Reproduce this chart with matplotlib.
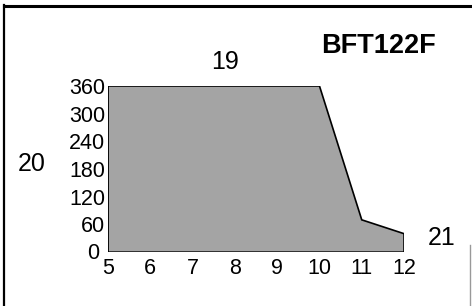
import matplotlib

matplotlib.use("Agg")
import matplotlib.pyplot as plt
import matplotlib.transforms as mtransforms
from matplotlib.lines import Line2D

plt.rcParams["font.family"] = ["Liberation Sans", "DejaVu Sans"]

# outline of the operating envelope
x_vals = [5, 5, 10, 11, 12, 12]
y_vals = [0, 360, 360, 70, 40, 0]
x_ticks = [5, 6, 7, 8, 9, 10, 11, 12]
y_ticks = [0, 60, 120, 180, 240, 300, 360]
title = "BFT122F"
labels = {"top": "19", "left": "20", "right": "21"}

fig = plt.figure(figsize=(4.72, 3.06), dpi=100)
ax = fig.add_axes([0.229, 0.176, 0.627, 0.543])
ax.fill(x_vals, y_vals, facecolor="#a4a4a4", edgecolor="black", linewidth=1.2,
        zorder=2)
ax.set_xlim(5, 12)
ax.set_ylim(0, 360)
ax.set_xticks(x_ticks)
ax.set_yticks(y_ticks)
ax.tick_params(length=0, labelsize=15.5)
ax.tick_params(axis="x", pad=4)
ax.tick_params(axis="y", pad=2)
for s in ax.spines.values():
    s.set_visible(False)

# the "0" sits a little left of the others, next to the "5"
zero = ax.get_yticklabels()[0]
zero.set_transform(zero.get_transform() + mtransforms.ScaledTranslation(-6 / 100, 1 / 100, fig.dpi_scale_trans))

fig.text(0.477, 0.797, labels["top"], fontsize=18, ha="center", va="center")
fig.text(0.068, 0.464, labels["left"], fontsize=18, ha="center", va="center")
fig.text(0.936, 0.222, labels["right"], fontsize=18, ha="center", va="center")
fig.text(0.801, 0.85, title, fontsize=19.5, fontweight="bold", ha="center", va="center")

# scanned frame: strong top and left edges, faint right edge
fig.add_artist(Line2D([0.009, 0.009], [0.0, 0.984], transform=fig.transFigure,
                      color="black", linewidth=1.6))
fig.add_artist(Line2D([0.008, 0.999], [0.982, 0.982], transform=fig.transFigure,
                      color="black", linewidth=2.2))
fig.add_artist(Line2D([0.996, 0.996], [0.0, 0.2], transform=fig.transFigure,
                      color="#999999", linewidth=1.0))

fig.savefig("out.png", dpi=100)
